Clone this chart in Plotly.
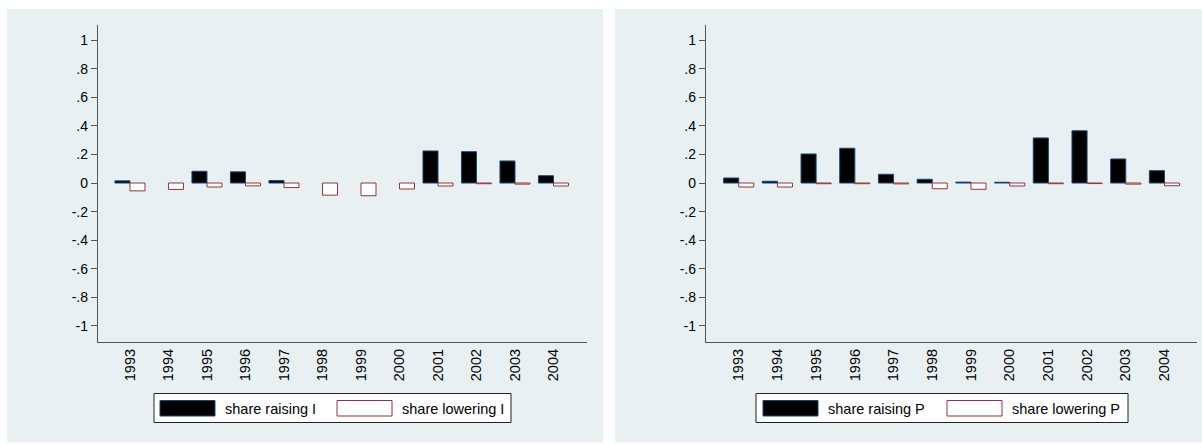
import plotly.graph_objects as go
from plotly.subplots import make_subplots

# ---- data -------------------------------------------------------------
years = [1993, 1994, 1995, 1996, 1997, 1998, 1999, 2000, 2001, 2002, 2003, 2004]

# None = no firms raising in that year (no bar drawn)
share_raising_I = [0.015, None, 0.082, 0.078, 0.017, None, None, None, 0.224, 0.219, 0.154, 0.051]
share_lowering_I = [-0.055, -0.045, -0.028, -0.020, -0.032, -0.085, -0.089, -0.042, -0.021, -0.005, -0.008, -0.021]

share_raising_P = [0.035, 0.012, 0.203, 0.243, 0.061, 0.026, 0.006, 0.005, 0.315, 0.365, 0.168, 0.086]
share_lowering_P = [-0.028, -0.028, -0.005, -0.005, -0.006, -0.040, -0.044, -0.021, -0.005, -0.004, -0.008, -0.019]

y_tick_vals = [1, 0.8, 0.6, 0.4, 0.2, 0, -0.2, -0.4, -0.6, -0.8, -1]
y_tick_text = ["1", ".8", ".6", ".4", ".2", "0", "-.2", "-.4", "-.6", "-.8", "-1"]

legend_labels = [
    ("share raising I", "share lowering I"),
    ("share raising P", "share lowering P"),
]

# ---- styling ----------------------------------------------------------
W, H = 1202, 445
FONT = "Arial, 'Liberation Sans', sans-serif"
REGION_BG = "#E8F0F2"
GRID = "#E6EEF1"
AXIS = "#555555"
RAISE_FILL, RAISE_LINE = "#000000", "#1A476F"
LOWER_FILL, LOWER_LINE = "#FFFFFF", "#90353B"


def px_x(v):
    return v / W


def px_y(v):
    return 1 - v / H


fig = make_subplots(rows=1, cols=2, horizontal_spacing=0.05)

idx = list(range(len(years)))
series = [
    (share_raising_I, share_lowering_I),
    (share_raising_P, share_lowering_P),
]
for col, (up, down) in enumerate(series, start=1):
    fig.add_trace(
        go.Bar(x=idx, y=up, marker=dict(color=RAISE_FILL, line=dict(color=RAISE_LINE, width=1)),
               showlegend=False, hoverinfo="x+y"),
        row=1, col=col,
    )
    fig.add_trace(
        go.Bar(x=idx, y=down, marker=dict(color=LOWER_FILL, line=dict(color=LOWER_LINE, width=1)),
               showlegend=False, hoverinfo="x+y"),
        row=1, col=col,
    )

# plot-region geometry (pixels)
plot_boxes = [(98, 587), (706, 1197)]
x_ranges = [[-0.83, 11.87], [-0.845, 11.84]]
plot_top, plot_bottom = 25, 342

for i, ((x0, x1), xr) in enumerate(zip(plot_boxes, x_ranges), start=1):
    xa = "xaxis" if i == 1 else f"xaxis{i}"
    ya = "yaxis" if i == 1 else f"yaxis{i}"
    fig.layout[xa].update(
        domain=[px_x(x0), px_x(x1)], range=xr,
        tickmode="array", tickvals=idx, ticktext=[str(y) for y in years],
        tickangle=-90, ticks="", showgrid=False, zeroline=False,
        showline=True, linecolor=AXIS, linewidth=1.3,
        tickfont=dict(family=FONT, size=14.5, color="#000"),
    )
    fig.layout[ya].update(
        domain=[px_y(plot_bottom), px_y(plot_top)], range=[-1.112, 1.105],
        tickmode="array", tickvals=y_tick_vals, ticktext=y_tick_text,
        ticks="outside", ticklen=6, tickcolor=AXIS, tickwidth=1,
        showgrid=True, gridcolor=GRID, gridwidth=1.2,
        zeroline=True, zerolinecolor=GRID, zerolinewidth=1.2,
        showline=True, linecolor=AXIS, linewidth=1.3,
        tickfont=dict(family=FONT, size=14, color="#000"),
    )

# graph-region backgrounds
shapes = []
for (rx0, rx1) in [(7, 603), (615, 1202)]:
    shapes.append(dict(type="rect", xref="paper", yref="paper", layer="below",
                       x0=px_x(rx0), x1=px_x(rx1), y0=px_y(442), y1=px_y(9),
                       fillcolor=REGION_BG, line=dict(width=0)))

# legends: frame, two key swatches and labels per panel
annotations = []
legend_geom = [
    dict(box=(154, 511), key1=160, txt1=223, key2=337, txt2=400),
    dict(box=(756, 1128), key1=763, txt1=826, key2=947, txt2=1010),
]
lg_top, lg_bot = 393.5, 422.5
key_top, key_bot = 400.5, 416
for g, (lab1, lab2) in zip(legend_geom, legend_labels):
    bx0, bx1 = g["box"]
    shapes.append(dict(type="rect", xref="paper", yref="paper",
                       x0=px_x(bx0), x1=px_x(bx1), y0=px_y(lg_bot), y1=px_y(lg_top),
                       fillcolor="#FFFFFF", line=dict(color="#222222", width=1)))
    shapes.append(dict(type="rect", xref="paper", yref="paper",
                       x0=px_x(g["key1"]), x1=px_x(g["key1"] + 55),
                       y0=px_y(key_bot), y1=px_y(key_top),
                       fillcolor=RAISE_FILL, line=dict(color=RAISE_LINE, width=1)))
    shapes.append(dict(type="rect", xref="paper", yref="paper",
                       x0=px_x(g["key2"]), x1=px_x(g["key2"] + 55),
                       y0=px_y(key_bot), y1=px_y(key_top),
                       fillcolor=LOWER_FILL, line=dict(color=LOWER_LINE, width=1)))
    for tx, lab in ((g["txt1"], lab1), (g["txt2"], lab2)):
        annotations.append(dict(xref="paper", yref="paper", x=px_x(tx), y=px_y(408.5),
                                xanchor="left", yanchor="middle", showarrow=False,
                                text=lab, font=dict(family=FONT, size=14.5, color="#000")))

fig.update_layout(
    width=W, height=H,
    margin=dict(l=0, r=0, t=0, b=0),
    paper_bgcolor="#FFFFFF", plot_bgcolor="#FFFFFF",
    barmode="group", bargap=0.22, bargroupgap=0,
    shapes=shapes, annotations=annotations,
    font=dict(family=FONT),
)

fig.write_html("out.html")
